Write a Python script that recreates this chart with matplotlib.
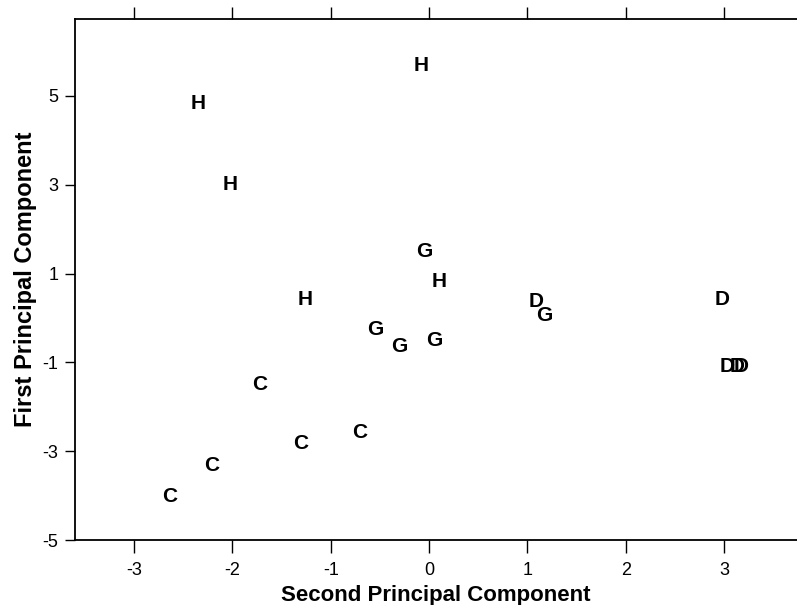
import matplotlib
matplotlib.use('Agg')
import matplotlib.pyplot as plt

# group letter for each sample, with its scores on the two components
groups = ['H', 'H', 'H', 'G', 'H', 'H', 'D', 'G', 'D', 'G', 'G', 'G',
          'D', 'D', 'D', 'C', 'C', 'C', 'C', 'C']
pc2 = [-0.08, -2.35, -2.02, -0.05, 0.10, -1.26, 1.09, 1.17, 2.98, -0.55,
       -0.30, 0.05, 3.03, 3.13, 3.17, -1.72, -0.71, -1.31, -2.21, -2.64]
pc1 = [5.68, 4.82, 3.00, 1.49, 0.83, 0.41, 0.36, 0.05, 0.41, -0.27,
       -0.65, -0.50, -1.10, -1.10, -1.10, -1.49, -2.57, -2.82, -3.33, -4.03]

xticks = [-3, -2, -1, 0, 1, 2, 3]
yticks = [-5, -3, -1, 1, 3, 5]

plt.rcParams['font.family'] = ['Liberation Sans', 'DejaVu Sans']

fig = plt.figure(figsize=(7.97, 6.05), dpi=100)
ax = fig.add_axes([0.094, 0.1074, 0.906, 0.8612])

# letters are the markers; D/G and the DD pair overlap in the original too
for g, x, y in zip(groups, pc2, pc1):
    ax.text(x, y, g, ha='center', va='center', fontsize=15,
            fontweight='bold', color='black')

ax.set_xlim(-3.60, 3.74)
ax.set_ylim(-5, 6.73)
ax.set_xticks(xticks)
ax.set_yticks(yticks)
ax.set_xticklabels([str(t) for t in xticks])
ax.set_yticklabels([str(t) for t in yticks])

ax.spines['right'].set_visible(False)
for s in ['left', 'bottom', 'top']:
    ax.spines[s].set_linewidth(1.3)

ax.tick_params(axis='x', direction='out', length=9, width=1.0,
               labelsize=13, top=True, pad=7)
ax.tick_params(axis='y', direction='out', length=7, width=1.0,
               labelsize=13, pad=5)

ax.set_xlabel('Second Principal Component', fontsize=16,
              fontweight='bold', labelpad=4)
ax.set_ylabel('First Principal Component', fontsize=17,
              fontweight='bold', labelpad=4)

fig.savefig('out.png', dpi=100)
plt.close(fig)
